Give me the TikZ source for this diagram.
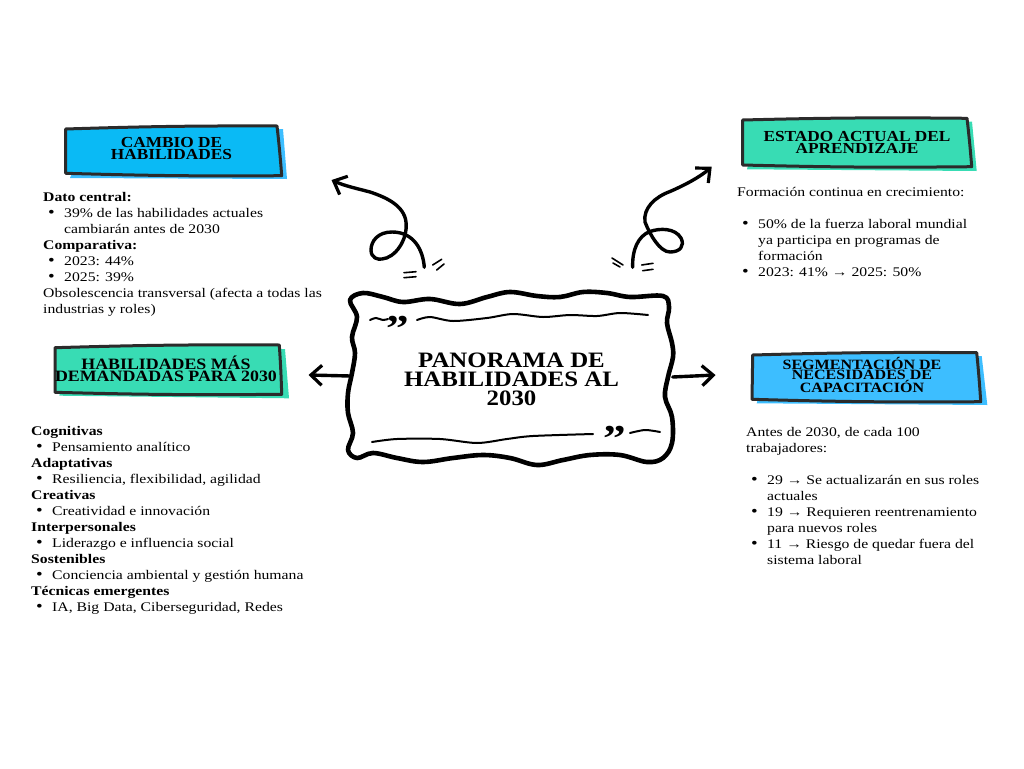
\documentclass[tikz,border=0pt]{standalone}
\usepackage{fontspec}
\setmainfont[FakeStretch=1.19]{Liberation Serif}
\newfontfamily\headfont[FakeStretch=1.13]{Liberation Serif}
\usepackage{tikz}
\usetikzlibrary{arrows.meta}

\definecolor{skyfill}{HTML}{0ABAF5}
\definecolor{skyback}{HTML}{3DBEFF}
\definecolor{mintfill}{HTML}{38DCB4}
\definecolor{inkline}{HTML}{2B2B2B}

\newcommand{\bul}[1]{\hspace*{5pt}\makebox[16pt][l]{{\fontsize{16}{16}\selectfont\textbullet}}#1}
\newcommand{\cont}[1]{\hspace*{21pt}#1}

\tikzset{
	headbox/.style={draw=inkline,line width=3pt,line join=round},
	headtext/.style={align=center,inner sep=0pt,font=\headfont\fontsize{15.3}{11.7}\selectfont\bfseries},
	bodytext/.style={anchor=north west,align=left,inner sep=0pt,font=\fontsize{13.2}{16}\selectfont},
	sketch/.style={line width=3.4pt,line cap=round,line join=round,-{Straight Barb[length=11pt,width=20pt,line width=3.2pt]}},
	wavy/.style={line width=2pt,line cap=round},
	tick/.style={line width=1.6pt,line cap=round}
}

\begin{document}
\begin{tikzpicture}[x=1pt,y=-1pt]
	\useasboundingbox (0,0) rectangle (1024,768);
	% back strips
	\fill[skyback] (90,129) -- (283,129) -- (287,179) -- (70,178) -- cycle;
	\fill[mintfill] (760,121) -- (972,121.7) -- (976.7,171) -- (747,169.3) -- cycle;
	\fill[skyback] (770,356) -- (981.7,356) -- (987.3,405) -- (756.7,403.3) -- cycle;
	\fill[mintfill] (70,349) -- (285,349) -- (289,398.3) -- (59.3,395.7) -- cycle;
	% head boxes
	\draw[headbox,fill=skyfill] (65.7,129) to[bend left=1] (277,126) to[bend left=1] (281.7,175.7) to[bend left=1] (65.7,173.3) -- cycle;
	\draw[headbox,fill=mintfill] (742.7,120) to[bend left=1] (967,118.3) to[bend left=1] (971.7,166.7) to[bend left=1] (742.7,165) -- cycle;
	\draw[headbox,fill=skyback] (752.7,355) to[bend left=1] (976.7,352.7) to[bend left=1] (980.7,401.7) to[bend left=1] (752,399.3) -- cycle;
	\draw[headbox,fill=mintfill] (55,347.7) to[bend left=1] (279.3,345) to[bend left=1] (281.7,394.3) to[bend left=1] (55,392.3) -- cycle;
	\node[headtext] (cambio) at (171.5,148.5) {CAMBIO DE\\HABILIDADES};
	\node[headtext] (estado) at (857,142.5) {ESTADO ACTUAL DEL\\APRENDIZAJE};
	\node[headtext,font=\headfont\fontsize{14.2}{10}\selectfont\bfseries] (segmento) at (862,375) {SEGMENTACIÓN DE\\NECESIDADES DE\\CAPACITACIÓN};
	\node[headtext,font=\headfont\fontsize{15.8}{11.7}\selectfont\bfseries] (demanda) at (166,368.5) {HABILIDADES MÁS\\DEMANDADAS PARA 2030};
	% text blocks
	\node[bodytext] (datos) at (43,192) {\textbf{Dato central:}\\\bul{39\% de las habilidades actuales}\\\cont{cambiarán antes de 2030}\\\textbf{Comparativa:}\\\bul{2023: 44\%}\\\bul{2025: 39\%}\\Obsolescencia transversal (afecta a todas las\\industrias y roles)};
	\node[bodytext] (lista) at (31,426) {\textbf{Cognitivas}\\\bul{Pensamiento analítico}\\\textbf{Adaptativas}\\\bul{Resiliencia, flexibilidad, agilidad}\\\textbf{Creativas}\\\bul{Creatividad e innovación}\\\textbf{Interpersonales}\\\bul{Liderazgo e influencia social}\\\textbf{Sostenibles}\\\bul{Conciencia ambiental y gestión humana}\\\textbf{Técnicas emergentes}\\\bul{IA, Big Data, Ciberseguridad, Redes}};
	\node[bodytext] (formacion) at (737,187) {Formación continua en crecimiento:\\[16pt]\bul{50\% de la fuerza laboral mundial}\\\cont{ya participa en programas de}\\\cont{formación}\\\bul{2023: 41\% → 2025: 50\%}};
	\node[bodytext] (trabajo) at (746,427) {Antes de 2030, de cada 100\\trabajadores:\\[16pt]\bul{29 → Se actualizarán en sus roles}\\\cont{actuales}\\\bul{19 → Requieren reentrenamiento}\\\cont{para nuevos roles}\\\bul{11 → Riesgo de quedar fuera del}\\\cont{sistema laboral}};
	% centre frame
	\draw[line width=4.6pt,line join=round] plot[smooth cycle,tension=0.6] coordinates {(350,300) (363,293) (383,297) (403,302) (430,299) (460,304) (487,297) (510,292) (537,296) (560,297) (583,292) (607,293) (630,297) (663,296) (669,307) (667,323) (672,343) (673,357) (668,377) (665,397) (672,417) (672,443) (663,458) (647,462) (620,455) (590,455) (563,460) (537,465) (510,458) (483,455) (453,458) (423,462) (397,458) (373,453) (357,458) (348,450) (353,433) (348,413) (348,393) (352,373) (355,353) (352,337) (357,317)};
	\node[align=center,inner sep=0pt,minimum width=322pt,minimum height=170pt,font=\headfont\fontsize{22}{19}\selectfont\bfseries] (panorama) at (511.5,379) {PANORAMA DE\\HABILIDADES AL\\2030};
	% inner wavy lines
	\draw[wavy] plot[smooth] coordinates {(370,320) (376,318) (383,320) (388,319)};
	\draw[wavy] plot[smooth] coordinates {(417,320) (430,317) (453,321) (487,318) (513,314) (543,317) (570,315) (597,316) (620,313) (648,315)};
	\draw[wavy] plot[smooth] coordinates {(372,442) (397,439) (440,439) (477,443) (507,439) (533,436) (593,434)};
	\draw[wavy] plot[smooth] coordinates {(630,433) (645,430) (660,432)};
	\node[inner sep=0pt,font=\fontsize{38}{38}\selectfont\bfseries] (quoteup) at (398,329) {”};
	\node[inner sep=0pt,font=\fontsize{38}{38}\selectfont\bfseries] (quotedown) at (615,439) {”};
	% arrows
	\coordinate (leftup) at (424.3,267.3);
	\coordinate (lefttip) at (331.5,180);
	\coordinate (rightup) at (632.7,267.3);
	\coordinate (righttip) at (711.7,166.7);
	\coordinate (westtip) at (308.5,375);
	\coordinate (easttip) at (715.5,375);
	\draw[sketch] (leftup) .. controls (423,250) and (414,232) .. (392,232) .. controls (378,232) and (371,241) .. (371,250) .. controls (371,258) and (378,260) .. (382,259) .. controls (395,258) and (408,240) .. (406,222) .. controls (404,205) and (385,197) .. (370,192) .. controls (355,188) and (345,186) .. (lefttip);
	\draw[sketch] (rightup) .. controls (632,250) and (638,236) .. (650,231.5) .. controls (660,228) and (675,228) .. (681,238) .. controls (685,246) and (680,252) .. (670,252) .. controls (660,252) and (650,235) .. (645,222) .. controls (643,208) and (655,197) .. (670,191.5) .. controls (685,185) and (700,177) .. (righttip);
	\draw[sketch] ([yshift=3pt]panorama.west) -- (westtip);
	\draw[sketch] ([yshift=2pt]panorama.east) -- (easttip);
	% small ticks
	\foreach \xa/\ya/\xb/\yb in {404/272.7/416/271.7, 404/277.7/416/276.7, 432.7/265/441.7/259.3, 436.7/270/444/264, 612/258/623/265, 613/263/620/267, 641.7/265/653/263.3, 642.7/270.7/653/269.3}
		\draw[tick] (\xa,\ya) -- (\xb,\yb);
\end{tikzpicture}
\end{document}
